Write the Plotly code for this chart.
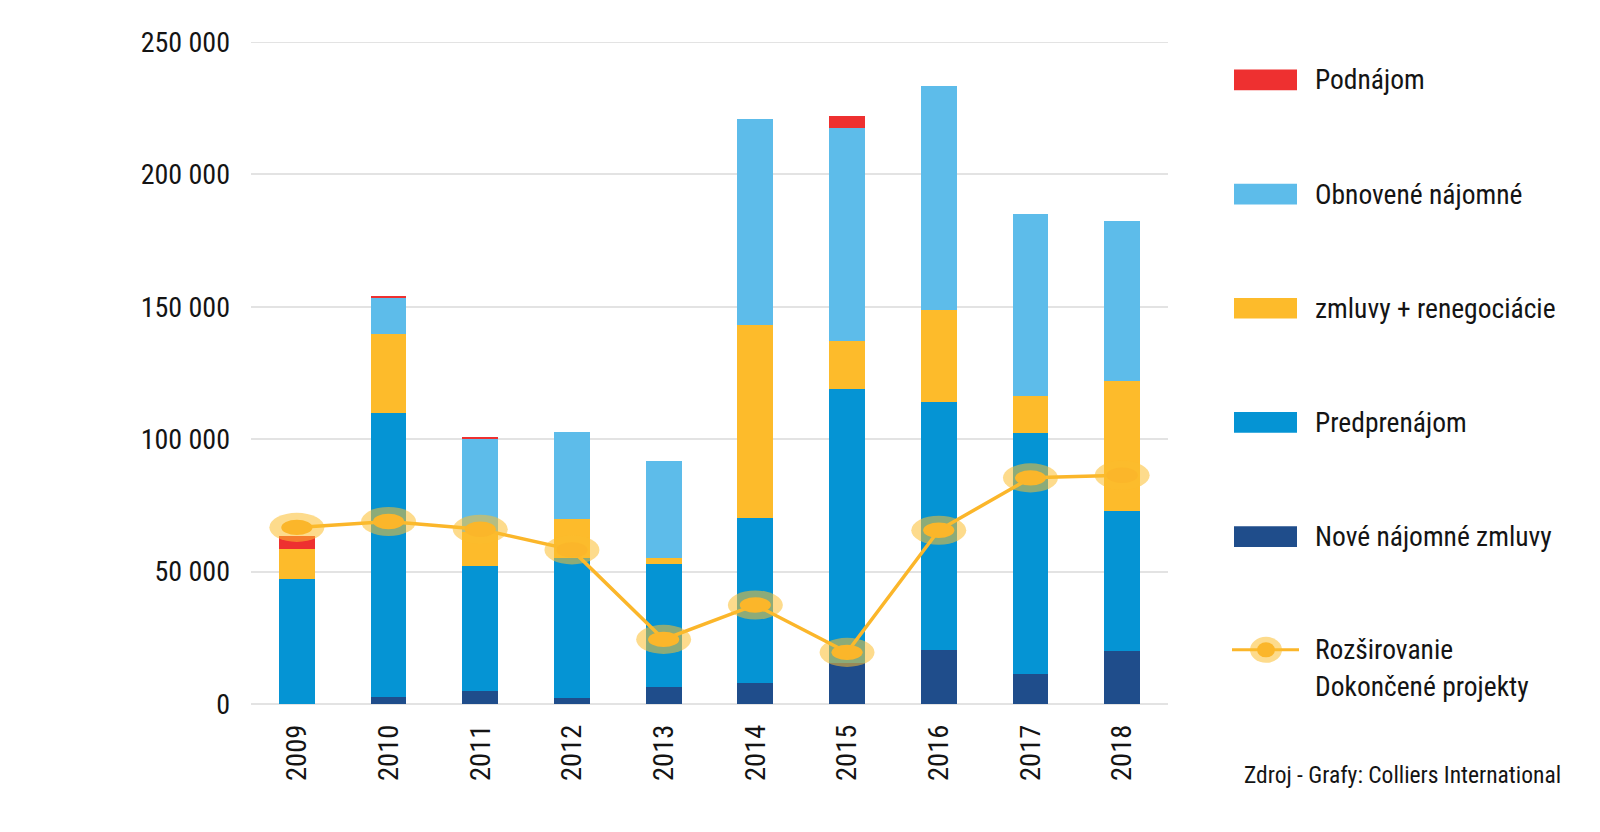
import plotly.graph_objects as go

years = ["2009", "2010", "2011", "2012", "2013", "2014", "2015", "2016", "2017", "2018"]
nove = [0, 2800, 5000, 2100, 6500, 8100, 15600, 20400, 11200, 20100]
predprenajom = [47200, 107000, 47000, 52900, 46400, 62100, 103400, 93500, 91000, 52700]
zmluvy = [11200, 30000, 13000, 14800, 2300, 72800, 17900, 34800, 14300, 49300]
obnovene = [0, 13600, 35300, 33000, 36700, 78000, 80500, 84600, 68400, 60200]
podnajom = [5200, 400, 300, 0, 0, 0, 4600, 0, 0, 0]
rozsirovanie = [66700, 68900, 66000, 58200, 24400, 37400, 19500, 65600, 85400, 86400]

y_ticks = [0, 50000, 100000, 150000, 200000, 250000]

C_NOVE = "#1F4D8B"
C_PRED = "#0594D4"
C_ZML = "#FDBB2B"
C_OBN = "#5DBCEA"
C_POD = "#EE3030"
C_LINE = "#FBB62A"
C_RING = "rgba(251,190,46,0.55)"
C_TEXT = "#141414"

FONT = "Liberation Sans Narrow, Roboto Condensed, Arial Narrow, Roboto, sans-serif"

L, R, T, B = 251, 1168, 41.7, 704.2
W, H = 1600, 832


def px(xp):
    return (xp - L) / (R - L)


def py(yp):
    return (B - yp) / (B - T)


fig = go.Figure()
bw = 0.39
for name, vals, col in [
    ("Nové nájomné zmluvy", nove, C_NOVE),
    ("Predprenájom", predprenajom, C_PRED),
    ("zmluvy + renegociácie", zmluvy, C_ZML),
    ("Obnovené nájomné", obnovene, C_OBN),
    ("Podnájom", podnajom, C_POD),
]:
    fig.add_trace(go.Bar(x=years, y=vals, name=name, marker=dict(color=col, line=dict(width=0)),
                         width=bw, showlegend=False))

fig.add_trace(go.Scatter(x=years, y=rozsirovanie, mode="lines", line=dict(color=C_LINE, width=3.5),
                         name="Rozširovanie Dokončené projekty", showlegend=False))

shapes = []
# top gridline at 250 000
shapes.append(dict(type="line", xref="paper", yref="y", x0=0, x1=1, y0=y_ticks[-1], y1=y_ticks[-1],
                   line=dict(color="#E3E3E3", width=2), layer="below"))
# ellipse markers computed from the line data
for i, v in enumerate(rozsirovanie):
    shapes.append(dict(type="circle", xref="x", yref="y", x0=i - 0.30, x1=i + 0.30,
                       y0=v - 5500, y1=v + 5500, fillcolor=C_RING, line=dict(width=0), layer="above"))
    shapes.append(dict(type="circle", xref="x", yref="y", x0=i - 0.17, x1=i + 0.17,
                       y0=v - 2900, y1=v + 2900, fillcolor=C_LINE, line=dict(width=0), layer="above"))

annotations = []
legend_items = [
    ("Podnájom", C_POD, 79.6),
    ("Obnovené nájomné", C_OBN, 193.9),
    ("zmluvy + renegociácie", C_ZML, 308.2),
    ("Predprenájom", C_PRED, 422.4),
    ("Nové nájomné zmluvy", C_NOVE, 536.7),
]
LEG_FONT = dict(family=FONT, size=27.5, color=C_TEXT)
for text, col, yc in legend_items:
    shapes.append(dict(type="rect", xref="paper", yref="paper", x0=px(1234), x1=px(1297),
                       y0=py(yc + 10.3), y1=py(yc - 10.3), fillcolor=col, line=dict(width=0)))
    annotations.append(dict(text=text, xref="paper", yref="paper", x=px(1313), y=py(yc),
                            xanchor="left", yanchor="middle", showarrow=False, font=LEG_FONT))

# line legend
yl = 650
shapes.append(dict(type="line", xref="paper", yref="paper", x0=px(1232), x1=px(1299), y0=py(yl), y1=py(yl),
                   line=dict(color=C_LINE, width=3)))
shapes.append(dict(type="circle", xref="paper", yref="paper", x0=px(1250), x1=px(1282), y0=py(yl + 13),
                   y1=py(yl - 13), fillcolor=C_RING, line=dict(width=0)))
shapes.append(dict(type="circle", xref="paper", yref="paper", x0=px(1257), x1=px(1275), y0=py(yl + 7.5),
                   y1=py(yl - 7.5), fillcolor=C_LINE, line=dict(width=0)))
annotations.append(dict(text="Rozširovanie", xref="paper", yref="paper", x=px(1313), y=py(yl),
                        xanchor="left", yanchor="middle", showarrow=False, font=LEG_FONT))
annotations.append(dict(text="Dokončené projekty", xref="paper", yref="paper", x=px(1313), y=py(yl + 37),
                        xanchor="left", yanchor="middle", showarrow=False, font=LEG_FONT))
annotations.append(dict(text="Zdroj - Grafy: Colliers International", xref="paper", yref="paper",
                        x=px(1242), y=py(775), xanchor="left", yanchor="middle", showarrow=False,
                        font=dict(family=FONT, size=23.5, color=C_TEXT)))

fig.update_layout(
    width=W, height=H,
    barmode="stack",
    plot_bgcolor="white", paper_bgcolor="white",
    margin=dict(l=L, r=W - R, t=T, b=H - B, pad=0),
    separators=", ",
    showlegend=False,
    shapes=shapes,
    annotations=annotations,
    font=dict(family=FONT, size=28, color=C_TEXT),
    xaxis=dict(type="category", range=[-0.5, 9.5], tickangle=-90, showgrid=False, showline=False,
               ticks="", tickfont=dict(family=FONT, size=28.5, color=C_TEXT), ticklabelstandoff=14),
    yaxis=dict(range=[0, 250000], tickvals=y_ticks, tickformat=",d", showgrid=True, gridcolor="#E3E3E3",
               gridwidth=2, zeroline=True, zerolinecolor="#E3E3E3", zerolinewidth=2, showline=False,
               ticks="", tickfont=dict(family=FONT, size=28, color=C_TEXT), ticklabelstandoff=20),
)

fig.write_html("out.html", config={"displayModeBar": False},
               post_script="document.body.style.margin='0px';")
